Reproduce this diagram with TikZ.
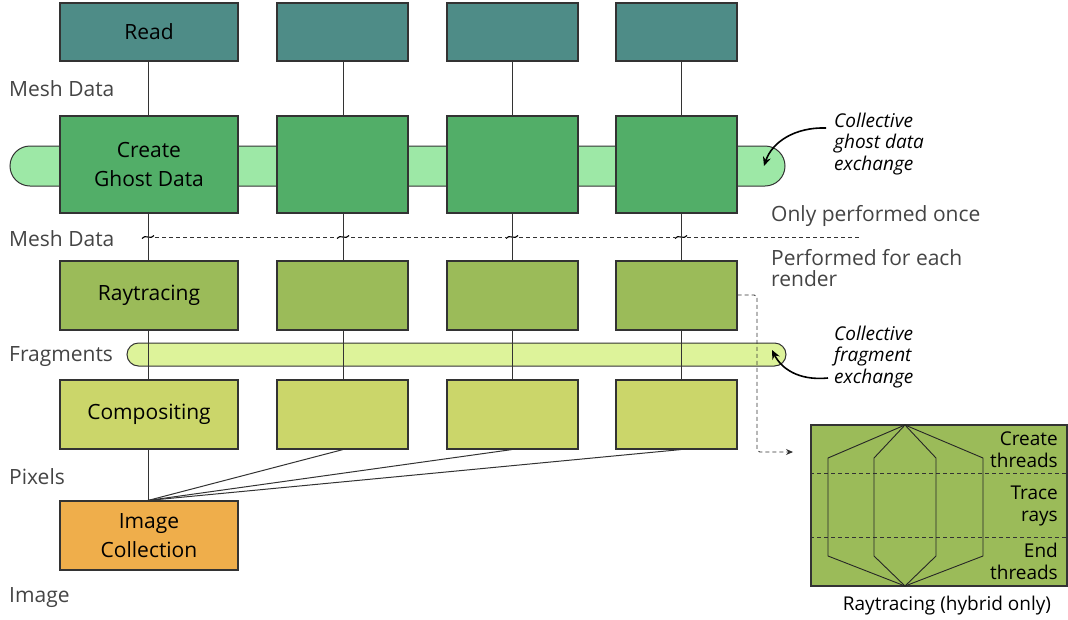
\documentclass[tikz,border=0pt]{standalone}
\usepackage{fontspec}
\setmainfont{Open Sans}
\usetikzlibrary{arrows.meta,calc}
\definecolor{cRead}{HTML}{4E8C87}
\definecolor{cGhost}{HTML}{52AE68}
\definecolor{cGhostBar}{HTML}{9DE8A6}
\definecolor{cRay}{HTML}{9BBB59}
\definecolor{cFragBar}{HTML}{DDF39A}
\definecolor{cComp}{HTML}{CBD66A}
\definecolor{cImg}{HTML}{EFAE4B}
\definecolor{cEdge}{HTML}{333333}
\definecolor{cLabel}{HTML}{444444}
\tikzset{
  box/.style={draw=cEdge, line width=1.1pt, rectangle, inner sep=0pt, align=center,
    font=\fontsize{21}{28.5}\selectfont, text=black},
  side/.style={anchor=west, inner sep=0pt, text=cLabel, font=\fontsize{21}{21}\selectfont, align=left},
  note/.style={anchor=west, inner sep=0pt, text=black, font=\fontsize{19}{21.5}\selectfont\itshape, align=left},
  link/.style={draw=cEdge, line width=1pt},
  coll/.style={line width=1.6pt, -{Stealth[length=9pt,width=8pt]}},
  hexa/.style={draw=black!85, line width=0.9pt},
  step lbl/.style={anchor=east, inner sep=0pt, align=right, font=\fontsize{19}{22}\selectfont, text=black}
}
\begin{document}
\begin{tikzpicture}[x=1pt,y=-1pt]
\useasboundingbox (0,0) rectangle (1068,619);
% column line x positions
\coordinate (L1) at (148,0);
\coordinate (L2) at (343,0);
\coordinate (L3) at (512,0);
\coordinate (L4) at (681,0);
% ghost bar (behind boxes)
\draw[fill=cGhostBar, draw=cEdge, line width=1pt, rounded corners=20pt] (10,146) rectangle (785,186);
% fragment bar
\draw[fill=cFragBar, draw=cEdge, line width=1pt, rounded corners=11.5pt] (127,343) rectangle (786,366);
% Read row
\node[box, fill=cRead, minimum width=178pt, minimum height=58pt] (r1) at (149,32) {Read};
\node[box, fill=cRead, minimum width=131pt, minimum height=58pt] (r2) at (342.5,32) {};
\node[box, fill=cRead, minimum width=131pt, minimum height=58pt] (r3) at (512.5,32) {};
\node[box, fill=cRead, minimum width=121pt, minimum height=58pt] (r4) at (676.5,32) {};
% Ghost row
\node[box, fill=cGhost, minimum width=178pt, minimum height=97pt] (g1) at (149,164.5) {Create\\Ghost Data};
\node[box, fill=cGhost, minimum width=131pt, minimum height=97pt] (g2) at (342.5,164.5) {};
\node[box, fill=cGhost, minimum width=131pt, minimum height=97pt] (g3) at (512.5,164.5) {};
\node[box, fill=cGhost, minimum width=121pt, minimum height=97pt] (g4) at (676.5,164.5) {};
% Raytracing row
\node[box, fill=cRay, minimum width=178pt, minimum height=69pt] (t1) at (149,295.5) {Raytracing};
\node[box, fill=cRay, minimum width=131pt, minimum height=69pt] (t2) at (342.5,295.5) {};
\node[box, fill=cRay, minimum width=131pt, minimum height=69pt] (t3) at (512.5,295.5) {};
\node[box, fill=cRay, minimum width=121pt, minimum height=69pt] (t4) at (676.5,295.5) {};
% Compositing row
\node[box, fill=cComp, minimum width=178pt, minimum height=69pt] (c1) at (149,414.5) {Compositing};
\node[box, fill=cComp, minimum width=131pt, minimum height=69pt] (c2) at (342.5,414.5) {};
\node[box, fill=cComp, minimum width=131pt, minimum height=69pt] (c3) at (512.5,414.5) {};
\node[box, fill=cComp, minimum width=121pt, minimum height=69pt] (c4) at (676.5,414.5) {};
% Image collection
\node[box, fill=cImg, minimum width=178pt, minimum height=69pt] (img) at (149,535.5) {Image\\Collection};
% vertical links
\foreach \i in {1,2,3,4}{
  \draw[link] (r\i.south -| L\i) -- (g\i.north -| L\i);
  \draw[link] (g\i.south -| L\i) -- (t\i.north -| L\i);
  \draw[link] (t\i.south -| L\i) -- (c\i.north -| L\i);
}
\draw[link] (c1.south -| L1) -- (img.north -| L1);
\coordinate (imgtop) at (img.north -| L1);
\draw[link] (c2.south -| L2) -- (imgtop);
\draw[link] (c3.south -| L3) -- (imgtop);
\draw[link] (c4.south -| L4) -- (imgtop);
% dashed separator
\coordinate (sepL) at (148,237);
\coordinate (sepR) at (860,237);
\draw[draw=cEdge, line width=0.8pt, dash pattern=on 4pt off 3pt] (sepL) -- (sepR);
\foreach \i in {1,2,3,4}{
  \fill[white] ($(L\i |- sepL)+(-6,-3)$) rectangle ($(L\i |- sepL)+(6,3)$);
  \draw[black, line width=1.1pt] ($(L\i |- sepL)+(-6,1.5)$) .. controls ($(L\i |- sepL)+(-3,-3.5)$) and ($(L\i |- sepL)+(3,3.5)$) .. ($(L\i |- sepL)+(6,-1.5)$);
  \draw[link] ($(L\i |- sepL)+(0,-3)$) -- ($(L\i |- sepL)+(0,3)$);
}
% left labels
\node[side] (lm1) at (9,89) {Mesh Data};
\node[side] (lm2) at (9,239) {Mesh Data};
\node[side] (lfr) at (9,357) {Fragments};
\node[side] (lpx) at (9,477) {Pixels};
\node[side] (lim) at (9,598) {Image};
% right notes
\node[side] (once) at (771,216) {Only performed once};
\node[side, font=\fontsize{21}{20.5}\selectfont] (each) at (771,268) {Performed for each\\render};
\node[note] (ng) at (834,144) {Collective\\ghost data\\exchange};
\node[note] (nf) at (834,357) {Collective\\fragment\\exchange};
\coordinate (gtip) at (764,166);
\coordinate (ftip) at (772,350);
\draw[coll] (826,128) .. controls (795,127) and (772,142) .. (gtip);
\draw[coll] (828,378) .. controls (798,381) and (781,368) .. (ftip);
% dashed arrow to detail box
\coordinate (dk1) at (757,295);
\coordinate (dk2) at (757,452);
\coordinate (dend) at (793,452);
\draw[draw=cEdge, line width=0.9pt, dash pattern=on 4pt off 3pt, rounded corners=3pt, -{Stealth[length=7pt,width=6pt]}]
  (t4.east |- dk1) -- (dk1) -- (dk2) -- (dend);
% detail box
\node[draw=cEdge, line width=1.1pt, fill=cRay, minimum width=256pt, minimum height=161pt, inner sep=0pt] (rb) at (939,505.5) {};
\draw[draw=black!80, line width=0.8pt, dash pattern=on 4pt off 3pt] (rb.west |- 0,473) -- (rb.east |- 0,473);
\draw[draw=black!80, line width=0.8pt, dash pattern=on 4pt off 3pt] (rb.west |- 0,537) -- (rb.east |- 0,537);
\draw[hexa] (905,425) -- (828,458) -- (828,556) -- (905,586) -- (983,556) -- (983,458) -- cycle;
\draw[hexa] (905,425) -- (874,458) -- (874,556) -- (905,586) -- (936,556) -- (936,458) -- cycle;
\node[step lbl] (s1) at (1058,450) {Create\\threads};
\node[step lbl] (s2) at (1058,506) {Trace\\rays};
\node[step lbl] (s3) at (1058,561) {End\\threads};
\node[inner sep=0pt, font=\fontsize{19}{20}\selectfont, text=black] (cap) at (947,606) {Raytracing (hybrid only)};
\end{tikzpicture}
\end{document}
